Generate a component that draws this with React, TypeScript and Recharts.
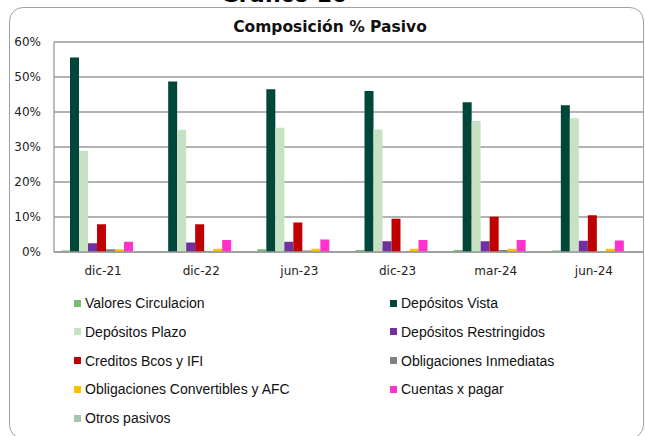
import React from "react";
import { BarChart, Bar, XAxis, YAxis, CartesianGrid } from "recharts";

const categories = ["dic-21", "dic-22", "jun-23", "dic-23", "mar-24", "jun-24"];

const seriesNames = [
  "Valores Circulacion",
  "Depósitos Vista",
  "Depósitos Plazo",
  "Depósitos Restringidos",
  "Creditos Bcos y IFI",
  "Obligaciones Inmediatas",
  "Obligaciones Convertibles y AFC",
  "Cuentas x pagar",
  "Otros pasivos",
];

const seriesColors = [
  "#78BC78",
  "#00463A",
  "#C6E2C2",
  "#7030A0",
  "#C00000",
  "#808080",
  "#FFC000",
  "#FF33CC",
  "#A6C4AE",
];

const valoresCirculacion = [0.4, 0.0, 0.8, 0.6, 0.6, 0.4];
const depositosVista = [55.6, 48.7, 46.5, 46.0, 42.8, 41.9];
const depositosPlazo = [28.9, 34.9, 35.5, 35.0, 37.4, 38.2];
const depositosRestringidos = [2.5, 2.7, 2.9, 3.1, 3.1, 3.2];
const creditosBcos = [7.9, 7.9, 8.4, 9.5, 10.1, 10.5];
const obligacionesInmediatas = [0.8, 0.2, 0.4, 0.1, 0.6, 0.0];
const obligacionesConvertibles = [0.8, 0.95, 0.9, 0.9, 0.9, 0.9];
const cuentasPagar = [2.9, 3.4, 3.6, 3.4, 3.4, 3.3];
const otrosPasivos = [0.0, 0.0, 0.0, 0.0, 0.0, 0.0];

const yTicks = [0, 10, 20, 30, 40, 50, 60];

const seriesValues = [
  valoresCirculacion,
  depositosVista,
  depositosPlazo,
  depositosRestringidos,
  creditosBcos,
  obligacionesInmediatas,
  obligacionesConvertibles,
  cuentasPagar,
  otrosPasivos,
];

const data = categories.map((c, i) => {
  const row: Record<string, string | number> = { name: c };
  seriesNames.forEach((s, j) => {
    row[s] = seriesValues[j][i];
  });
  return row;
});

const FONT = "'DejaVu Sans', sans-serif";
const LEGEND_FONT = "'Liberation Sans', Arial, sans-serif";

export default function App() {
  return (
    <div
      style={{
        position: "fixed",
        left: 0,
        top: 0,
        width: 646,
        height: 436,
        overflow: "hidden",
        background: "#fff",
        fontFamily: FONT,
      }}
    >
      <div
        style={{
          position: "absolute",
          left: 0,
          width: 568,
          top: -16,
          textAlign: "center",
          fontWeight: "bold",
          fontSize: 22,
          lineHeight: "22px",
          color: "#000",
        }}
      >
        Gráfico 10
      </div>
      <div
        style={{
          position: "absolute",
          left: 9,
          top: 7,
          width: 635,
          height: 432,
          border: "1.5px solid #a0a0a0",
          borderRadius: 14,
          boxSizing: "border-box",
          background: "#fff",
        }}
      />
      <div
        style={{
          position: "absolute",
          left: 0,
          width: 660,
          top: 17,
          textAlign: "center",
          fontWeight: "bold",
          fontSize: 15.5,
          lineHeight: "20px",
          color: "#111",
        }}
      >
        Composición % Pasivo
      </div>
      <div style={{ position: "absolute", left: 0, top: 0 }}>
        <BarChart
          width={646}
          height={290}
          data={data}
          margin={{ top: 42, right: 3, left: 8, bottom: 8 }}
          barCategoryGap={7}
          barGap={0}
        >
          <CartesianGrid vertical={false} stroke="#9a9a9a" strokeWidth={1.3} />
          <XAxis
            dataKey="name"
            tickLine={false}
            tickSize={0}
            tickMargin={14}
            height={30}
            axisLine={{ stroke: "#9a9a9a", strokeWidth: 1.3 }}
            tick={{ fill: "#222", fontSize: 12, fontFamily: FONT }}
            interval={0}
          />
          <YAxis
            width={46}
            domain={[0, 60]}
            ticks={yTicks}
            tickFormatter={(v: number) => `${v}%`}
            tickLine={false}
            tickSize={0}
            tickMargin={13}
            axisLine={{ stroke: "#9a9a9a", strokeWidth: 1.3 }}
            tick={{ fill: "#222", fontSize: 12, fontFamily: FONT }}
            allowDataOverflow
          />
          {seriesNames.map((s, j) => (
            <Bar
              key={s}
              dataKey={s}
              fill={seriesColors[j]}
              isAnimationActive={false}
            />
          ))}
        </BarChart>
      </div>
      {seriesNames.map((s, j) => {
        const col = j % 2;
        const row = Math.floor(j / 2);
        return (
          <div
            key={s}
            style={{
              position: "absolute",
              left: col === 0 ? 74 : 390,
              top: 303 + row * 28.8 - 9,
              height: 18,
              display: "flex",
              alignItems: "center",
              fontSize: 14,
              fontFamily: LEGEND_FONT,
              color: "#111",
              whiteSpace: "nowrap",
            }}
          >
            <span
              style={{
                display: "inline-block",
                width: 7,
                height: 7,
                background: seriesColors[j],
                marginRight: 4,
              }}
            />
            {s}
          </div>
        );
      })}
    </div>
  );
}
